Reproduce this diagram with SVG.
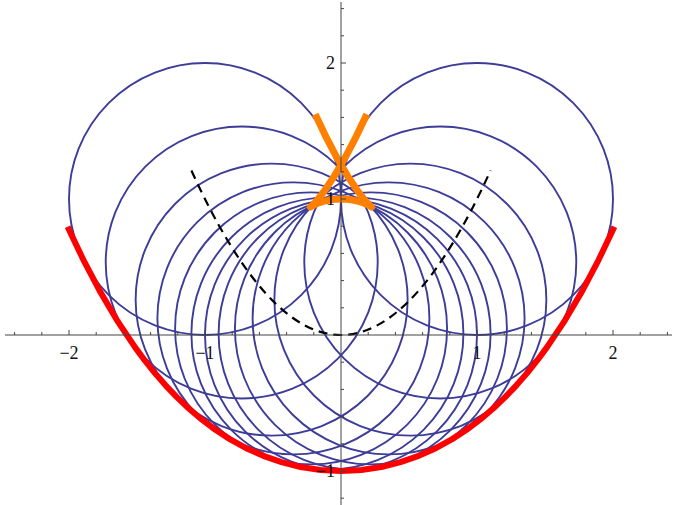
<svg xmlns="http://www.w3.org/2000/svg" width="673" height="505" viewBox="0 0 673 505">
<style>
.c{fill:none;stroke:#3d3d99;stroke-width:1.9}
.ax{fill:none;stroke:#444;stroke-width:1}
.lbl{font-family:"Liberation Serif","Times New Roman",serif;font-size:18px;fill:#111}
</style>
<rect width="673" height="505" fill="#fff"/>
<g id="circles">
<circle class="c" cx="205" cy="199" r="136"/>
<circle class="c" cx="241.72" cy="262.53" r="136"/>
<circle class="c" cx="271.64" cy="299.63" r="136"/>
<circle class="c" cx="293.4" cy="318.34" r="136"/>
<circle class="c" cx="311.08" cy="328.42" r="136"/>
<circle class="c" cx="327.4" cy="333.64" r="136"/>
<circle class="c" cx="341" cy="335" r="136"/>
<circle class="c" cx="354.6" cy="333.64" r="136"/>
<circle class="c" cx="370.92" cy="328.42" r="136"/>
<circle class="c" cx="388.6" cy="318.34" r="136"/>
<circle class="c" cx="410.36" cy="299.63" r="136"/>
<circle class="c" cx="440.28" cy="262.53" r="136"/>
<circle class="c" cx="477" cy="199" r="136"/>
</g>
<g id="centers">
<path d="M191.4,170.44 Q341,499.56 490.6,170.44" fill="none" stroke="#000" stroke-width="2.2" stroke-dasharray="9,6"/>
</g>
<g id="envelopes">
<polyline id="outer" fill="none" stroke="#ff0000" stroke-width="6" stroke-linejoin="round" points="67.59,226.72 83.36,259.82 99.71,290.89 116.87,320.04 135.13,347.41 144.80,360.46 154.92,373.11 165.57,385.34 176.83,397.17 188.82,408.55 201.64,419.44 215.41,429.76 230.23,439.38 246.18,448.14 263.29,455.83 281.52,462.20 300.73,467.0 320.67,469.99 341,471 361.33,469.99 381.27,467.0 400.48,462.20 418.71,455.83 435.82,448.14 451.77,439.38 466.59,429.76 480.36,419.44 493.18,408.55 505.17,397.17 516.43,385.34 527.08,373.11 537.20,360.46 546.87,347.41 565.13,320.04 582.29,290.89 598.64,259.82 614.41,226.72"/>
<polyline id="inner" fill="none" stroke="#ff8000" stroke-width="7" stroke-linejoin="round" points="315.21,114.16 326.64,138.18 337.49,158.79 347.53,175.88 356.47,189.31 360.40,194.62 363.88,198.97 366.83,202.38 369.17,204.83 370.78,206.37 371.56,207.04 371.61,207.09 371.39,206.92 370.17,206.14 367.82,204.86 364.31,203.29 359.68,201.68 354.07,200.28 347.73,199.33 341,199 334.27,199.33 327.93,200.28 322.32,201.68 317.69,203.29 314.18,204.86 311.83,206.14 310.61,206.92 310.39,207.09 310.44,207.04 311.22,206.37 312.83,204.83 315.17,202.38 318.12,198.97 321.60,194.62 325.53,189.31 334.47,175.88 344.51,158.79 355.36,138.18 366.79,114.16"/>
</g>
<g id="axes">
<path class="ax" d="M5,335H672M341,2V505"/>
<path class="ax" d="M14.6,335v-3M41.8,335v-3M69,335v-5M96.2,335v-3M123.4,335v-3M150.6,335v-3M177.8,335v-3M205,335v-5M232.2,335v-3M259.4,335v-3M286.6,335v-3M313.8,335v-3M368.2,335v-3M395.4,335v-3M422.6,335v-3M449.8,335v-3M477,335v-5M504.2,335v-3M531.4,335v-3M558.6,335v-3M585.8,335v-3M613,335v-5M640.2,335v-3M667.4,335v-3"/>
<path class="ax" d="M341,8.6h3M341,35.8h3M341,63h5M341,90.2h3M341,117.4h3M341,144.6h3M341,171.8h3M341,199h5M341,226.2h3M341,253.4h3M341,280.6h3M341,307.8h3M341,362.2h3M341,389.4h3M341,416.6h3M341,443.8h3M341,471h5M341,498.2h3"/>
<text class="lbl" x="69" y="359" text-anchor="middle">−2</text>
<text class="lbl" x="205" y="359" text-anchor="middle">−1</text>
<text class="lbl" x="477" y="359" text-anchor="middle">1</text>
<text class="lbl" x="613" y="359" text-anchor="middle">2</text>
<text class="lbl" x="335" y="69" text-anchor="end">2</text>
<text class="lbl" x="335" y="205" text-anchor="end">1</text>
<text class="lbl" x="335" y="477" text-anchor="end">−1</text>
</g>
</svg>
